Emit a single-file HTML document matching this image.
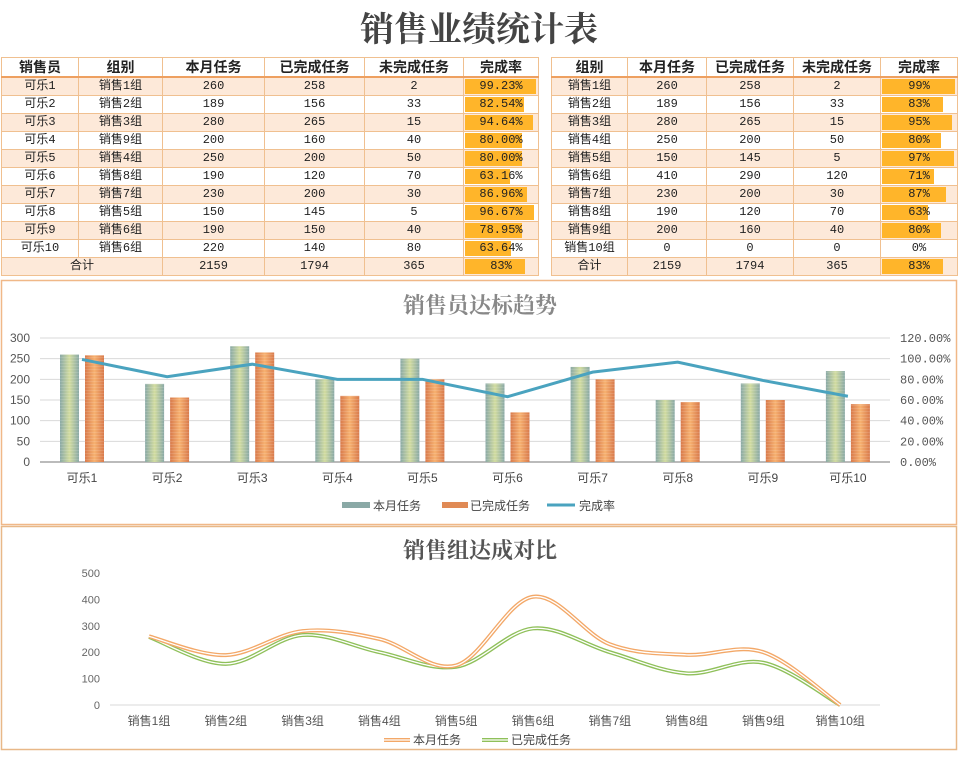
<!DOCTYPE html>
<html><head><meta charset="utf-8"><style>
body{margin:0;width:958px;height:761px;background:#fff;position:relative;overflow:hidden;font-family:"Liberation Sans","Noto Sans CJK SC",sans-serif;}
.title{position:absolute;left:0;width:958px;top:2px;text-align:center;font-family:"Liberation Serif","Noto Serif CJK SC",serif;font-size:34px;font-weight:bold;color:#444;}
table{position:absolute;border-collapse:collapse;table-layout:fixed;font-family:"Liberation Mono","Noto Sans CJK SC",monospace;font-size:12px;color:#222}
td{border:1px solid #f0c090;height:17px;padding:0;text-align:center;line-height:17px;position:relative}
tr.h td{font-weight:bold;font-size:14px;height:18px;border-bottom:2px solid #eea060;font-family:"Liberation Sans","Noto Sans CJK SC",sans-serif}
tr.o td{background:#fde9d9}
td.b span{position:relative}
td.b i{position:absolute;left:1px;top:1px;bottom:1px;background:#ffb52a}
svg{position:absolute;left:0;top:0}
</style></head><body>
<div class="title">销售业绩统计表</div>
<table id="t1" style="left:1px;top:57px;width:537px"><colgroup><col style="width:77px"><col style="width:84px"><col style="width:102px"><col style="width:100px"><col style="width:99px"><col style="width:75px"></colgroup></table>
<table id="t2" style="left:551px;top:57px;width:406px"><colgroup><col style="width:76px"><col style="width:79px"><col style="width:87px"><col style="width:87px"><col style="width:77px"></colgroup></table>
<svg id="s" width="958" height="761" font-family="Liberation Sans, Noto Sans CJK SC, sans-serif"></svg>
<script>
const d1=[["可乐1","销售1组",260,258,2,"99.23%",99.23],["可乐2","销售2组",189,156,33,"82.54%",82.54],["可乐3","销售3组",280,265,15,"94.64%",94.64],["可乐4","销售9组",200,160,40,"80.00%",80],["可乐5","销售4组",250,200,50,"80.00%",80],["可乐6","销售8组",190,120,70,"63.16%",63.16],["可乐7","销售7组",230,200,30,"86.96%",86.96],["可乐8","销售5组",150,145,5,"96.67%",96.67],["可乐9","销售6组",190,150,40,"78.95%",78.95],["可乐10","销售6组",220,140,80,"63.64%",63.64]];
const d2=[["销售1组",260,258,2,"99%",99],["销售2组",189,156,33,"83%",83],["销售3组",280,265,15,"95%",95],["销售4组",250,200,50,"80%",80],["销售5组",150,145,5,"97%",97],["销售6组",410,290,120,"71%",71],["销售7组",230,200,30,"87%",87],["销售8组",190,120,70,"63%",63],["销售9组",200,160,40,"80%",80],["销售10组",0,0,0,"0%",0]];
function bar(t,p){return `<td class="b"><i style="width:${p*0.97}%"></i><span>${t}</span></td>`}
let h='<tr class="h"><td>销售员</td><td>组别</td><td>本月任务</td><td>已完成任务</td><td>未完成任务</td><td>完成率</td></tr>';
d1.forEach((r,i)=>{h+=`<tr class="${i%2?'':'o'}"><td>${r[0]}</td><td>${r[1]}</td><td>${r[2]}</td><td>${r[3]}</td><td>${r[4]}</td>${bar(r[5],r[6])}</tr>`});
h+=`<tr class="o"><td colspan="2">合计</td><td>2159</td><td>1794</td><td>365</td>${bar("83%",83)}</tr>`;
document.getElementById('t1').innerHTML+=h;
h='<tr class="h"><td>组别</td><td>本月任务</td><td>已完成任务</td><td>未完成任务</td><td>完成率</td></tr>';
d2.forEach((r,i)=>{h+=`<tr class="${i%2?'':'o'}"><td>${r[0]}</td><td>${r[1]}</td><td>${r[2]}</td><td>${r[3]}</td>${bar(r[4],r[5])}</tr>`});
h+=`<tr class="o"><td>合计</td><td>2159</td><td>1794</td><td>365</td>${bar("83%",83)}</tr>`;
document.getElementById('t2').innerHTML+=h;

let s=`<defs><linearGradient id="gg" x1="0" x2="1"><stop offset="0" stop-color="#8aa9a6"/><stop offset=".5" stop-color="#d2dca0"/><stop offset="1" stop-color="#8aa9a6"/></linearGradient>
<linearGradient id="og" x1="0" x2="1"><stop offset="0" stop-color="#d87a4c"/><stop offset=".5" stop-color="#f7b170"/><stop offset="1" stop-color="#d87a4c"/></linearGradient>
<pattern id="st" width="4" height="3" patternUnits="userSpaceOnUse"><rect width="4" height="1" fill="#fff" opacity=".12"/></pattern></defs>`;
s+=`<rect x="1.5" y="280.5" width="955" height="244" fill="none" stroke="#f0b888" stroke-width="1.5"/>`;
s+=`<text x="480" y="313" text-anchor="middle" font-size="22" font-weight="bold" fill="#888" font-family="Liberation Serif, Noto Serif CJK SC, serif">销售员达标趋势</text>`;
for(let i=0;i<=6;i++){let y=462-i*124/6;s+=`<line x1="40" x2="890" y1="${y}" y2="${y}" stroke="${i?'#d9d9d9':'#bbb'}" stroke-width="${i?1:2}"/>`;
s+=`<text x="30" y="${y+4}" text-anchor="end" font-size="12" fill="#555">${i*50}</text>`;
s+=`<text x="900" y="${y+4}" font-size="12" fill="#555" font-family="Liberation Mono, monospace">${(i*20).toFixed(2)}%</text>`;}
let pts=[];
d1.forEach((r,i)=>{let c=82+i*85.1;let h1=r[2]*124/300,h2=r[3]*124/300;
s+=`<rect x="${c-22}" y="${462-h1}" width="19" height="${h1}" fill="url(#gg)"/><rect x="${c-22}" y="${462-h1}" width="19" height="${h1}" fill="url(#st)"/>`;
s+=`<rect x="${c+3}" y="${462-h2}" width="19" height="${h2}" fill="url(#og)"/><rect x="${c+3}" y="${462-h2}" width="19" height="${h2}" fill="url(#st)"/>`;
s+=`<text x="${c}" y="482" text-anchor="middle" font-size="12" fill="#444">${r[0]}</text>`;
pts.push(`${c},${462-r[6]*124/120}`);});
s+=`<polyline points="${pts.join(' ')}" fill="none" stroke="#4aa3bf" stroke-width="3"/>`;
s+=`<rect x="342" y="502" width="28" height="6" fill="#8aa9a6"/><text x="373" y="510" font-size="12" fill="#444">本月任务</text>`;
s+=`<rect x="442" y="502" width="26" height="6" fill="#e08a55"/><text x="470" y="510" font-size="12" fill="#444">已完成任务</text>`;
s+=`<line x1="547" x2="575" y1="505" y2="505" stroke="#4aa3bf" stroke-width="3"/><text x="579" y="510" font-size="12" fill="#444">完成率</text>`;
s+=`<rect x="1.5" y="526.5" width="955" height="223" fill="none" stroke="#e8b888" stroke-width="1.5"/>`;
s+=`<text x="480" y="558" text-anchor="middle" font-size="22" font-weight="bold" fill="#555" font-family="Liberation Serif, Noto Serif CJK SC, serif">销售组达成对比</text>`;
for(let i=0;i<=5;i++){let y=705-i*26.4;s+=`<text x="100" y="${y+4}" text-anchor="end" font-size="11" fill="#666">${i*100}</text>`;}
s+=`<line x1="110" x2="880" y1="705" y2="705" stroke="#d9d9d9"/>`;
function smooth(v){let p=v.map((a,i)=>[149+i*76.8,705-a*0.264]);let d=`M${p[0]}`;
for(let i=0;i<p.length-1;i++){let p0=p[i-1]||p[i],p1=p[i],p2=p[i+1],p3=p[i+2]||p2;
d+=` C${p1[0]+(p2[0]-p0[0])/6},${p1[1]+(p2[1]-p0[1])/6} ${p2[0]-(p3[0]-p1[0])/6},${p2[1]-(p3[1]-p1[1])/6} ${p2[0]},${p2[1]}`;}return d;}
let a=smooth(d2.map(r=>r[1])),b=smooth(d2.map(r=>r[2]));
s+=`<path d="${b}" fill="none" stroke="#8fc05a" stroke-width="4"/><path d="${b}" fill="none" stroke="#fff" stroke-width="1.3"/>`;
s+=`<path d="${a}" fill="none" stroke="#f3a868" stroke-width="4"/><path d="${a}" fill="none" stroke="#fff" stroke-width="1.3"/>`;
d2.forEach((r,i)=>{s+=`<text x="${149+i*76.8}" y="725" text-anchor="middle" font-size="12" fill="#555">${r[0]}</text>`});
s+=`<line x1="384" x2="410" y1="740" y2="740" stroke="#f3a868" stroke-width="4"/><line x1="384" x2="410" y1="740" y2="740" stroke="#fff" stroke-width="1.3"/><text x="413" y="744" font-size="12" fill="#444">本月任务</text>`;
s+=`<line x1="482" x2="508" y1="740" y2="740" stroke="#8fc05a" stroke-width="4"/><line x1="482" x2="508" y1="740" y2="740" stroke="#fff" stroke-width="1.3"/><text x="511" y="744" font-size="12" fill="#444">已完成任务</text>`;
document.getElementById('s').innerHTML=s;
</script>
</body></html>
